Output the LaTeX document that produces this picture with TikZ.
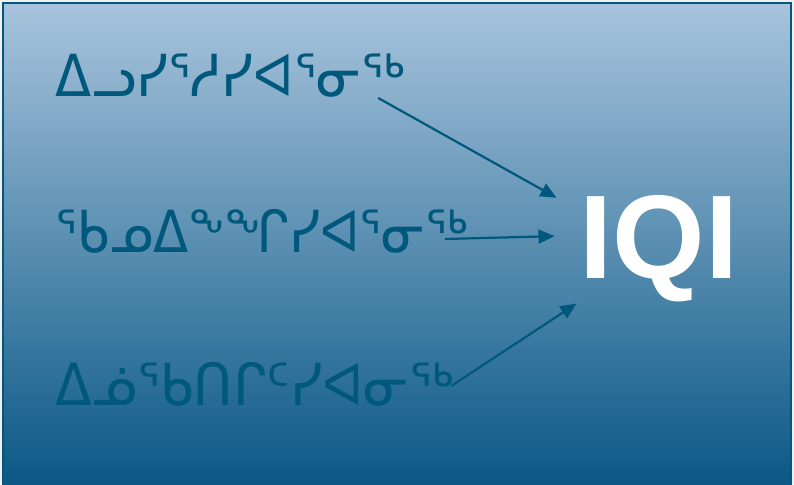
\documentclass[tikz,border=0pt]{standalone}
\usepackage{fontspec}
\setmainfont{DejaVu Sans}
\newfontfamily\iqifont{Liberation Sans}
\usetikzlibrary{arrows.meta}

\definecolor{iqblue}{RGB}{0,88,124}
\definecolor{iqtop}{RGB}{168,196,220}
\definecolor{iqmid}{RGB}{128,160,190}
\definecolor{iqbottom}{RGB}{10,88,134}

\newcommand{\narrow}[2][0.91]{\scalebox{#1}[1]{#2}}

\begin{document}
\begin{tikzpicture}[x=1pt, y=-1pt,
    word/.style={anchor=base west, inner sep=0pt, text=iqblue, font=\fontsize{58}{60}\selectfont},
    arr/.style={draw=iqblue, line width=2.2pt, -{Triangle[length=16pt, width=14pt]}}]
    \useasboundingbox (0, 0) rectangle (794, 484);
    \fill[white!88!gray] (0, 0) rectangle (794, 484);
    \shade[top color=iqtop, middle color=iqmid, bottom color=iqbottom] (3, 3) rectangle (791, 486);
    \draw[iqblue, line width=2pt] (3, 486) -- (3, 3) -- (791, 3) -- (791, 486);

    \node[word] (ilu) at (55, 97) {\narrow{ᐃᓗᓯᕐᓱᓯᐊᕐᓂᖅ}};
    \node[word] (qanu) at (55, 252) {\narrow[0.888]{ᖃᓄᐃᖕᖏᓯᐊᕐᓂᖅ}};
    \node[word] (inuu) at (55, 405) {\narrow[0.926]{ᐃᓅᖃᑎᒋᑦᓯᐊᓂᖅ}};
    \node[anchor=base, inner sep=0pt, text=white, font=\iqifont\bfseries\fontsize{119}{120}\selectfont] (iqi) at (659, 278) {IQI};

    \draw[arr] ([xshift=-27pt, yshift=-1pt]ilu.base east) -- ([shift={(-23pt, -3pt)}]iqi.north west);
    \draw[arr] ([xshift=-23pt, yshift=13pt]qanu.base east) -- ([shift={(-25pt, 12pt)}]iqi.west);
    \draw[arr] ([xshift=-3pt, yshift=19pt]inuu.base east) -- ([shift={(-3pt, -2pt)}]iqi.south west);
\end{tikzpicture}
\end{document}
